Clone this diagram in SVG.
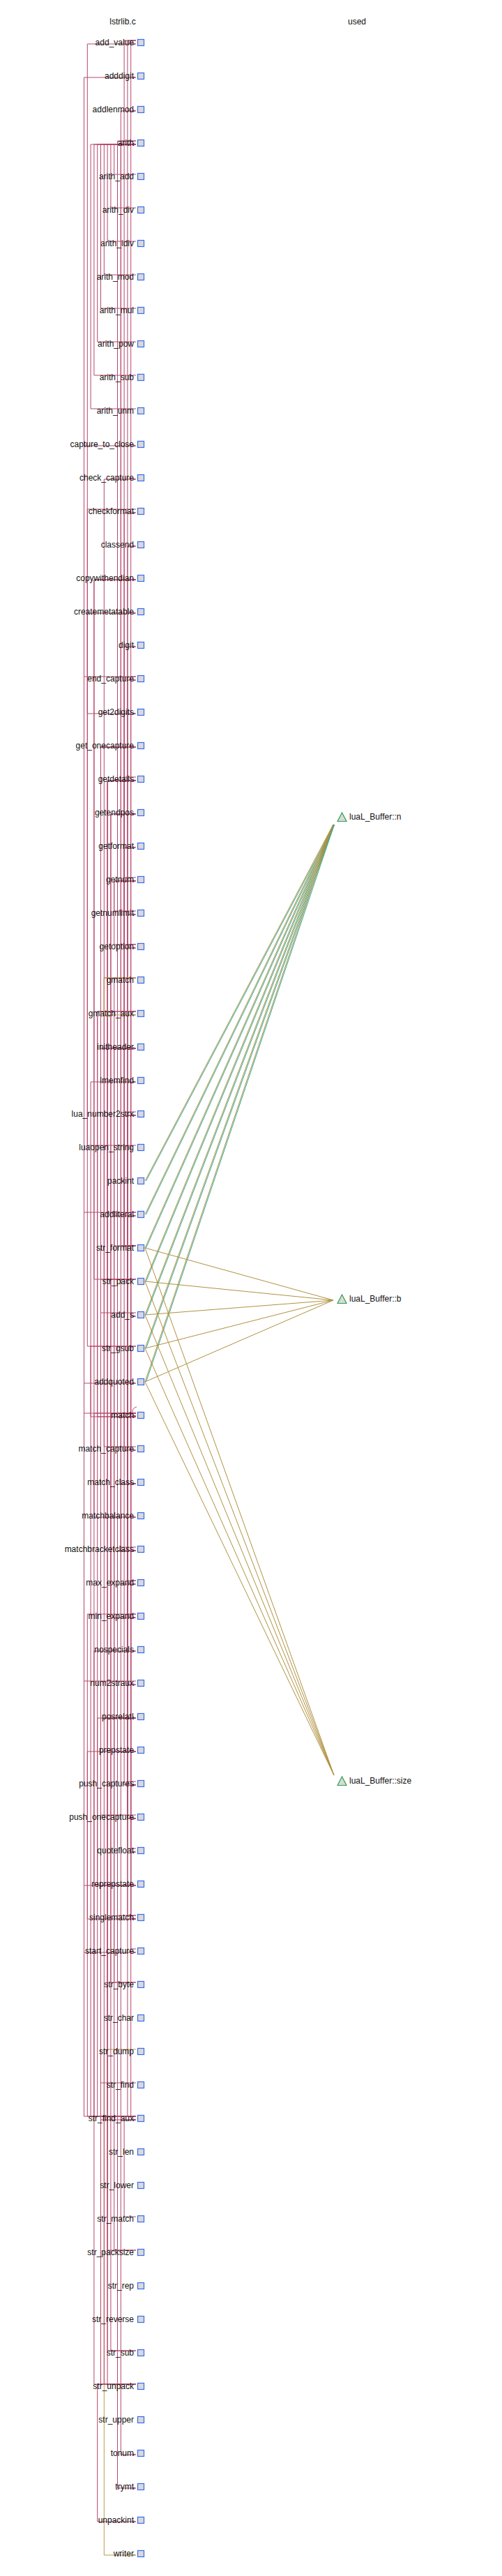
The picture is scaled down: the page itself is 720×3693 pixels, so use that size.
<svg xmlns="http://www.w3.org/2000/svg" width="720" height="3693" viewBox="0 0 720 3693">
<style>
.t{font-family:"Liberation Sans",Arial,sans-serif;font-size:12px;fill:#111;text-anchor:end}
.r{font-family:"Liberation Sans",Arial,sans-serif;font-size:12px;fill:#111;text-anchor:start}
.h{font-family:"Liberation Sans",Arial,sans-serif;font-size:12px;fill:#111;text-anchor:middle}
.sq{fill:#d9d9d9;stroke:#3a6cf4;stroke-width:1.2}
.tri{fill:#d9d9d9;stroke:#2f9e4f;stroke-width:1.2}
.e{fill:none;stroke:#b4476c;stroke-width:1;marker-end:url(#ar)}
.eg{fill:none;stroke:#b99b4b;stroke-width:1;marker-end:url(#ag)}
.u{fill:none;stroke:#b0913e;stroke-width:1}
.w{fill:none;stroke:#35a893;stroke-width:1}
</style>
<defs>
<marker id="ar" markerUnits="userSpaceOnUse" markerWidth="5" markerHeight="4" refX="4" refY="1.75" orient="auto"><path d="M0,0 L4,1.75 L0,3.5 z" fill="#b4476c"/></marker>
<marker id="ag" markerUnits="userSpaceOnUse" markerWidth="5" markerHeight="4" refX="4" refY="1.75" orient="auto"><path d="M0,0 L4,1.75 L0,3.5 z" fill="#b99b4b"/></marker>
</defs>
<rect width="720" height="3693" fill="#fff"/>
<text class="h" x="176" y="35">lstrlib.c</text>
<text class="h" x="512" y="35">used</text>
<g id="connectors">
<path class="eg" d="M195,2938 H149.3 V3663 H195"/>
<path class="e" d="M195,2410 H120.5 V111 H195"/>
<path class="e" d="M195,970 H120.5 V639 H195"/>
<path class="e" d="M195,1738 H120.5 V1983 H195"/>
<path class="e" d="M195,2026 H120.5 V2799 H195"/>
<path class="e" d="M195,3034 H120.5 V2703 H195"/>
<path class="e" d="M195,1930 H125.3 V63 H195"/>
<path class="e" d="M195,730 H125.3 V1023 H195"/>
<path class="e" d="M195,1642 H125.3 V879 H195"/>
<path class="e" d="M195,2314 H125.3 V2751 H195"/>
<path class="e" d="M195,3034 H125.3 V2511 H195"/>
<path class="e" d="M195,586 H130.1 V207 H195"/>
<path class="e" d="M195,3034 H130.1 V1551 H195"/>
<path class="e" d="M195,1930 H130.1 V2031 H195"/>
<path class="e" d="M195,538 H134.9 V207 H195"/>
<path class="e" d="M195,3418 H134.9 V831 H195"/>
<path class="e" d="M195,1834 H134.9 V831 H195"/>
<path class="e" d="M195,3034 H134.9 V2367 H195"/>
<path class="e" d="M195,2026 H134.9 V2175 H195"/>
<path class="e" d="M195,490 H139.7 V207 H195"/>
<path class="e" d="M195,1450 H139.7 V2703 H195"/>
<path class="e" d="M195,1450 H139.7 V2031 H195"/>
<path class="e" d="M195,3034 H139.7 V2463 H195"/>
<path class="e" d="M195,3418 H139.7 V3615 H195"/>
<path class="e" d="M195,442 H144.5 V207 H195"/>
<path class="e" d="M195,1882 H144.5 V1071 H195"/>
<path class="e" d="M195,2602 H144.5 V1071 H195"/>
<path class="e" d="M195,3418 H144.5 V1503 H195"/>
<path class="e" d="M195,1834 H144.5 V1503 H195"/>
<path class="e" d="M195,2986 H144.5 V3039 H195"/>
<path class="e" d="M195,394 H149.3 V207 H195"/>
<path class="e" d="M195,2074 H149.3 V687 H195"/>
<path class="e" d="M195,1402 H149.3 V2463 H195"/>
<path class="e" d="M195,3418 H149.3 V2463 H195"/>
<path class="e" d="M195,346 H154.1 V207 H195"/>
<path class="e" d="M195,1834 H154.1 V1119 H195"/>
<path class="e" d="M195,3226 H154.1 V1119 H195"/>
<path class="e" d="M195,3418 H154.1 V1119 H195"/>
<path class="e" d="M195,3370 H154.1 V2463 H195"/>
<path class="e" d="M195,298 H158.9 V207 H195"/>
<path class="e" d="M195,2842 H158.9 V1167 H195"/>
<path class="e" d="M195,3370 H158.9 V1167 H195"/>
<path class="e" d="M195,2026 H158.9 V2319 H195"/>
<path class="e" d="M195,250 H163.7 V207 H195"/>
<path class="e" d="M195,1354 H163.7 V1263 H195"/>
<path class="e" d="M195,1306 H163.7 V1263 H195"/>
<path class="e" d="M195,1786 H163.7 V1743 H195"/>
<path class="e" d="M195,1402 H163.7 V2511 H195"/>
<path class="e" d="M195,2842 H163.7 V2463 H195"/>
<path class="e" d="M195,3226 H163.7 V1503 H195"/>
<path class="e" d="M195,202 H168.5 V3567 H195"/>
<path class="e" d="M195,2026 H168.5 V2223 H195"/>
<path class="e" d="M195,2746 H168.5 V2223 H195"/>
<path class="e" d="M195,1786 H173.3 V159 H195"/>
<path class="e" d="M195,202 H173.3 V3519 H195"/>
<path class="e" d="M195,2026 H173.3 V2271 H195"/>
<path class="e" d="M195,2218 H173.3 V2127 H195"/>
<path class="e" d="M195,1786 H178.1 V735 H195"/>
<path class="e" d="M195,1258 H178.1 V927 H195"/>
<path class="e" d="M195,1786 H178.1 V1215 H195"/>
<path class="e" d="M195,1786 H178.1 V1599 H195"/>
<path class="e" d="M195,58 H178.1 V2559 H195"/>
<path class="e" d="M195,3178 H178.1 V3039 H195"/>
<path class="e" d="M195,2026 H178.1 V2079 H195"/>
<path class="e" d="M195,1114 H178.1 V1359 H195"/>
<path class="e" d="M195,58 H182.9 V2607 H195"/>
<path class="e" d="M195,2026 H182.9 V783 H195"/>
<path class="e" d="M195,2026 H182.9 V975 H195"/>
<path class="e" d="M195,1354 H182.9 V1311 H195"/>
<path class="e" d="M195,1594 H182.9 V2415 H195"/>
<path class="e" d="M195,2650 H182.9 V1599 H195"/>
<path class="e" d="M195,3034 H182.9 V2031 H195"/>
<path class="e" d="M195,2554 H182.9 V2607 H195"/>
<path class="e" d="M195,2746 H182.9 V2127 H195"/>
<path class="e" d="M195,2266 H182.9 V2031 H195"/>
<path class="e" d="M195,2314 H182.9 V2031 H195"/>
<path class="e" d="M195,58 H187.7 V1887 H195"/>
<path class="e" d="M195,970 H187.7 V2031 H195"/>
<path class="e" d="M195,1450 H187.7 V2559 H195"/>
<path class="e" d="M195,3034 H187.7 V2559 H195"/>
<path class="e" d="M195,1738 H187.7 V2655 H195"/>
<path class="e" d="M195,2266 H187.7 V2751 H195"/>
<path class="e" d="M195,2794 H187.7 V2031 H195"/>
<path class="e" d="M195,2026 H187.7 V2751 H195"/>
<path class="e" d="M196,2017 C191,2018 189.5,2022 190,2026 Q190.5,2030 195,2030"/>
<path class="eg" d="M195,1402 H149.3 V1455 H195"/>
<path class="u" d="M208,1693 L478,1182"/><path class="w" d="M209.5,1693 L479.5,1182"/>
<path class="u" d="M208,1741 L478,1182"/><path class="w" d="M209.5,1741 L479.5,1182"/>
<path class="u" d="M208,1789 L478,1182"/><path class="w" d="M209.5,1789 L479.5,1182"/>
<path class="u" d="M208,1837 L478,1182"/><path class="w" d="M209.5,1837 L479.5,1182"/>
<path class="u" d="M208,1885 L478,1182"/><path class="w" d="M209.5,1885 L479.5,1182"/>
<path class="u" d="M208,1933 L478,1182"/><path class="w" d="M209.5,1933 L479.5,1182"/>
<path class="u" d="M208,1981 L478,1182"/><path class="w" d="M209.5,1981 L479.5,1182"/>
<path class="u" d="M208,1789 L478,1864"/>
<path class="u" d="M208,1837 L478,1864"/>
<path class="u" d="M208,1885 L478,1864"/>
<path class="u" d="M208,1933 L478,1864"/>
<path class="u" d="M208,1981 L478,1864"/>
<path class="u" d="M208,1789 L479,2545"/>
<path class="u" d="M208,1837 L479,2545"/>
<path class="u" d="M208,1885 L479,2545"/>
<path class="u" d="M208,1933 L479,2545"/>
<path class="u" d="M208,1981 L479,2545"/>
</g>
<g id="n-add_value"><text class="t" x="192" y="65">add_value</text><rect class="sq" x="197.5" y="56.5" width="9" height="9"/></g>
<g id="n-adddigit"><text class="t" x="192" y="113">adddigit</text><rect class="sq" x="197.5" y="104.5" width="9" height="9"/></g>
<g id="n-addlenmod"><text class="t" x="192" y="161">addlenmod</text><rect class="sq" x="197.5" y="152.5" width="9" height="9"/></g>
<g id="n-arith"><text class="t" x="192" y="209">arith</text><rect class="sq" x="197.5" y="200.5" width="9" height="9"/></g>
<g id="n-arith_add"><text class="t" x="192" y="257">arith_add</text><rect class="sq" x="197.5" y="248.5" width="9" height="9"/></g>
<g id="n-arith_div"><text class="t" x="192" y="305">arith_div</text><rect class="sq" x="197.5" y="296.5" width="9" height="9"/></g>
<g id="n-arith_idiv"><text class="t" x="192" y="353">arith_idiv</text><rect class="sq" x="197.5" y="344.5" width="9" height="9"/></g>
<g id="n-arith_mod"><text class="t" x="192" y="401">arith_mod</text><rect class="sq" x="197.5" y="392.5" width="9" height="9"/></g>
<g id="n-arith_mul"><text class="t" x="192" y="449">arith_mul</text><rect class="sq" x="197.5" y="440.5" width="9" height="9"/></g>
<g id="n-arith_pow"><text class="t" x="192" y="497">arith_pow</text><rect class="sq" x="197.5" y="488.5" width="9" height="9"/></g>
<g id="n-arith_sub"><text class="t" x="192" y="545">arith_sub</text><rect class="sq" x="197.5" y="536.5" width="9" height="9"/></g>
<g id="n-arith_unm"><text class="t" x="192" y="593">arith_unm</text><rect class="sq" x="197.5" y="584.5" width="9" height="9"/></g>
<g id="n-capture_to_close"><text class="t" x="192" y="641">capture_to_close</text><rect class="sq" x="197.5" y="632.5" width="9" height="9"/></g>
<g id="n-check_capture"><text class="t" x="192" y="689">check_capture</text><rect class="sq" x="197.5" y="680.5" width="9" height="9"/></g>
<g id="n-checkformat"><text class="t" x="192" y="737">checkformat</text><rect class="sq" x="197.5" y="728.5" width="9" height="9"/></g>
<g id="n-classend"><text class="t" x="192" y="785">classend</text><rect class="sq" x="197.5" y="776.5" width="9" height="9"/></g>
<g id="n-copywithendian"><text class="t" x="192" y="833">copywithendian</text><rect class="sq" x="197.5" y="824.5" width="9" height="9"/></g>
<g id="n-createmetatable"><text class="t" x="192" y="881">createmetatable</text><rect class="sq" x="197.5" y="872.5" width="9" height="9"/></g>
<g id="n-digit"><text class="t" x="192" y="929">digit</text><rect class="sq" x="197.5" y="920.5" width="9" height="9"/></g>
<g id="n-end_capture"><text class="t" x="192" y="977">end_capture</text><rect class="sq" x="197.5" y="968.5" width="9" height="9"/></g>
<g id="n-get2digits"><text class="t" x="192" y="1025">get2digits</text><rect class="sq" x="197.5" y="1016.5" width="9" height="9"/></g>
<g id="n-get_onecapture"><text class="t" x="192" y="1073">get_onecapture</text><rect class="sq" x="197.5" y="1064.5" width="9" height="9"/></g>
<g id="n-getdetails"><text class="t" x="192" y="1121">getdetails</text><rect class="sq" x="197.5" y="1112.5" width="9" height="9"/></g>
<g id="n-getendpos"><text class="t" x="192" y="1169">getendpos</text><rect class="sq" x="197.5" y="1160.5" width="9" height="9"/></g>
<g id="n-getformat"><text class="t" x="192" y="1217">getformat</text><rect class="sq" x="197.5" y="1208.5" width="9" height="9"/></g>
<g id="n-getnum"><text class="t" x="192" y="1265">getnum</text><rect class="sq" x="197.5" y="1256.5" width="9" height="9"/></g>
<g id="n-getnumlimit"><text class="t" x="192" y="1313">getnumlimit</text><rect class="sq" x="197.5" y="1304.5" width="9" height="9"/></g>
<g id="n-getoption"><text class="t" x="192" y="1361">getoption</text><rect class="sq" x="197.5" y="1352.5" width="9" height="9"/></g>
<g id="n-gmatch"><text class="t" x="192" y="1409">gmatch</text><rect class="sq" x="197.5" y="1400.5" width="9" height="9"/></g>
<g id="n-gmatch_aux"><text class="t" x="192" y="1457">gmatch_aux</text><rect class="sq" x="197.5" y="1448.5" width="9" height="9"/></g>
<g id="n-initheader"><text class="t" x="192" y="1505">initheader</text><rect class="sq" x="197.5" y="1496.5" width="9" height="9"/></g>
<g id="n-lmemfind"><text class="t" x="192" y="1553">lmemfind</text><rect class="sq" x="197.5" y="1544.5" width="9" height="9"/></g>
<g id="n-lua_number2strx"><text class="t" x="192" y="1601">lua_number2strx</text><rect class="sq" x="197.5" y="1592.5" width="9" height="9"/></g>
<g id="n-luaopen_string"><text class="t" x="192" y="1649">luaopen_string</text><rect class="sq" x="197.5" y="1640.5" width="9" height="9"/></g>
<g id="n-packint"><text class="t" x="192" y="1697">packint</text><rect class="sq" x="197.5" y="1688.5" width="9" height="9"/></g>
<g id="n-addliteral"><text class="t" x="192" y="1745">addliteral</text><rect class="sq" x="197.5" y="1736.5" width="9" height="9"/></g>
<g id="n-str_format"><text class="t" x="192" y="1793">str_format</text><rect class="sq" x="197.5" y="1784.5" width="9" height="9"/></g>
<g id="n-str_pack"><text class="t" x="192" y="1841">str_pack</text><rect class="sq" x="197.5" y="1832.5" width="9" height="9"/></g>
<g id="n-add_s"><text class="t" x="192" y="1889">add_s</text><rect class="sq" x="197.5" y="1880.5" width="9" height="9"/></g>
<g id="n-str_gsub"><text class="t" x="192" y="1937">str_gsub</text><rect class="sq" x="197.5" y="1928.5" width="9" height="9"/></g>
<g id="n-addquoted"><text class="t" x="192" y="1985">addquoted</text><rect class="sq" x="197.5" y="1976.5" width="9" height="9"/></g>
<g id="n-match"><text class="t" x="192" y="2033">match</text><rect class="sq" x="197.5" y="2024.5" width="9" height="9"/></g>
<g id="n-match_capture"><text class="t" x="192" y="2081">match_capture</text><rect class="sq" x="197.5" y="2072.5" width="9" height="9"/></g>
<g id="n-match_class"><text class="t" x="192" y="2129">match_class</text><rect class="sq" x="197.5" y="2120.5" width="9" height="9"/></g>
<g id="n-matchbalance"><text class="t" x="192" y="2177">matchbalance</text><rect class="sq" x="197.5" y="2168.5" width="9" height="9"/></g>
<g id="n-matchbracketclass"><text class="t" x="192" y="2225">matchbracketclass</text><rect class="sq" x="197.5" y="2216.5" width="9" height="9"/></g>
<g id="n-max_expand"><text class="t" x="192" y="2273">max_expand</text><rect class="sq" x="197.5" y="2264.5" width="9" height="9"/></g>
<g id="n-min_expand"><text class="t" x="192" y="2321">min_expand</text><rect class="sq" x="197.5" y="2312.5" width="9" height="9"/></g>
<g id="n-nospecials"><text class="t" x="192" y="2369">nospecials</text><rect class="sq" x="197.5" y="2360.5" width="9" height="9"/></g>
<g id="n-num2straux"><text class="t" x="192" y="2417">num2straux</text><rect class="sq" x="197.5" y="2408.5" width="9" height="9"/></g>
<g id="n-posrelatI"><text class="t" x="192" y="2465">posrelatI</text><rect class="sq" x="197.5" y="2456.5" width="9" height="9"/></g>
<g id="n-prepstate"><text class="t" x="192" y="2513">prepstate</text><rect class="sq" x="197.5" y="2504.5" width="9" height="9"/></g>
<g id="n-push_captures"><text class="t" x="192" y="2561">push_captures</text><rect class="sq" x="197.5" y="2552.5" width="9" height="9"/></g>
<g id="n-push_onecapture"><text class="t" x="192" y="2609">push_onecapture</text><rect class="sq" x="197.5" y="2600.5" width="9" height="9"/></g>
<g id="n-quotefloat"><text class="t" x="192" y="2657">quotefloat</text><rect class="sq" x="197.5" y="2648.5" width="9" height="9"/></g>
<g id="n-reprepstate"><text class="t" x="192" y="2705">reprepstate</text><rect class="sq" x="197.5" y="2696.5" width="9" height="9"/></g>
<g id="n-singlematch"><text class="t" x="192" y="2753">singlematch</text><rect class="sq" x="197.5" y="2744.5" width="9" height="9"/></g>
<g id="n-start_capture"><text class="t" x="192" y="2801">start_capture</text><rect class="sq" x="197.5" y="2792.5" width="9" height="9"/></g>
<g id="n-str_byte"><text class="t" x="192" y="2849">str_byte</text><rect class="sq" x="197.5" y="2840.5" width="9" height="9"/></g>
<g id="n-str_char"><text class="t" x="192" y="2897">str_char</text><rect class="sq" x="197.5" y="2888.5" width="9" height="9"/></g>
<g id="n-str_dump"><text class="t" x="192" y="2945">str_dump</text><rect class="sq" x="197.5" y="2936.5" width="9" height="9"/></g>
<g id="n-str_find"><text class="t" x="192" y="2993">str_find</text><rect class="sq" x="197.5" y="2984.5" width="9" height="9"/></g>
<g id="n-str_find_aux"><text class="t" x="192" y="3041">str_find_aux</text><rect class="sq" x="197.5" y="3032.5" width="9" height="9"/></g>
<g id="n-str_len"><text class="t" x="192" y="3089">str_len</text><rect class="sq" x="197.5" y="3080.5" width="9" height="9"/></g>
<g id="n-str_lower"><text class="t" x="192" y="3137">str_lower</text><rect class="sq" x="197.5" y="3128.5" width="9" height="9"/></g>
<g id="n-str_match"><text class="t" x="192" y="3185">str_match</text><rect class="sq" x="197.5" y="3176.5" width="9" height="9"/></g>
<g id="n-str_packsize"><text class="t" x="192" y="3233">str_packsize</text><rect class="sq" x="197.5" y="3224.5" width="9" height="9"/></g>
<g id="n-str_rep"><text class="t" x="192" y="3281">str_rep</text><rect class="sq" x="197.5" y="3272.5" width="9" height="9"/></g>
<g id="n-str_reverse"><text class="t" x="192" y="3329">str_reverse</text><rect class="sq" x="197.5" y="3320.5" width="9" height="9"/></g>
<g id="n-str_sub"><text class="t" x="192" y="3377">str_sub</text><rect class="sq" x="197.5" y="3368.5" width="9" height="9"/></g>
<g id="n-str_unpack"><text class="t" x="192" y="3425">str_unpack</text><rect class="sq" x="197.5" y="3416.5" width="9" height="9"/></g>
<g id="n-str_upper"><text class="t" x="192" y="3473">str_upper</text><rect class="sq" x="197.5" y="3464.5" width="9" height="9"/></g>
<g id="n-tonum"><text class="t" x="192" y="3521">tonum</text><rect class="sq" x="197.5" y="3512.5" width="9" height="9"/></g>
<g id="n-trymt"><text class="t" x="192" y="3569">trymt</text><rect class="sq" x="197.5" y="3560.5" width="9" height="9"/></g>
<g id="n-unpackint"><text class="t" x="192" y="3617">unpackint</text><rect class="sq" x="197.5" y="3608.5" width="9" height="9"/></g>
<g id="n-writer"><text class="t" x="192" y="3665">writer</text><rect class="sq" x="197.5" y="3656.5" width="9" height="9"/></g>
<g id="v-luaL_Buffer_n"><polygon class="tri" points="484,1177.5 490.5,1165 497,1177.5"/><text class="r" x="501" y="1175">luaL_Buffer::n</text></g>
<g id="v-luaL_Buffer_b"><polygon class="tri" points="484,1868.5 490.5,1856 497,1868.5"/><text class="r" x="501" y="1866">luaL_Buffer::b</text></g>
<g id="v-luaL_Buffer_size"><polygon class="tri" points="484,2559.5 490.5,2547 497,2559.5"/><text class="r" x="501" y="2557">luaL_Buffer::size</text></g>
</svg>
